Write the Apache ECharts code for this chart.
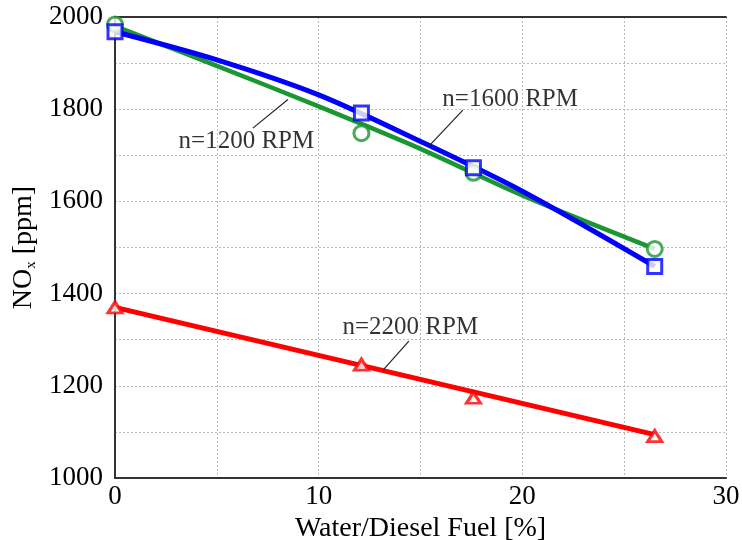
<!DOCTYPE html>
<html><head><meta charset="utf-8">
<script src="https://cdn.jsdelivr.net/npm/echarts@6/dist/echarts.min.js"></script>
<style>html,body{margin:0;padding:0;background:#fff}#c{width:742px;height:540px}</style>
</head><body><div id="c"></div>
<script>
// Measured points (markers)
const xMeas = [0, 12.1, 17.6, 26.5];
const nox1200 = [1984, 1748, 1662, 1497];
const nox1600 = [1968, 1792, 1673, 1459];
const nox2200 = [1370, 1246, 1174, 1091];
// Fitted curves
const fit1200 = [[0,1980],[5,1894],[10,1806],[15,1714],[20,1613],[26.5,1497]];
const fit1600 = [[0,1968],[5,1907],[10,1831],[15,1730],[20,1622],[26.5,1459]];
const fit2200 = [[0,1370],[26.5,1094]];
// Annotations: text, text position, leader line (from, to)
const annText = ['n=1200 RPM', 'n=1600 RPM', 'n=2200 RPM'];
const annPos = [[6.45,1729],[19.4,1822],[14.5,1326]];
const annLine = [[[6.77,1759],[8.49,1821]], [[15.46,1722],[17.08,1798]], [[13.16,1234],[14.43,1297]]];
const xTicks = [0,10,20,30];
const yTicks = [1000,1200,1400,1600,1800,2000];

const FONT = '"Liberation Serif","Times New Roman",serif';
const TXT = '#000';
const colors = ['#1a9632', '#0000ff', '#ff0000'];
const fits = [fit1200, fit1600, fit2200];
const meas = [nox1200, nox1600, nox2200];
const symbols = ['circle', 'rect', 'triangle'];
const widths = [4.5, 5, 5];

const series = [];
fits.forEach((f, i) => {
  series.push({type:'line', data:f, smooth:0.3, showSymbol:false, symbol:'none',
    lineStyle:{color:colors[i], width:widths[i]}, z:2, animation:false});
});
meas.forEach((m, i) => {
  series.push({type:'scatter', data:xMeas.map((x,j)=>[x,m[j]]), symbol:symbols[i],
    symbolSize: i===2 ? [14,11] : (i===1 ? 14 : 15),
    itemStyle:{color:'#fff', borderColor:colors[i], borderWidth:3}, z:5, animation:false});
});
annLine.forEach((l) => {
  series.push({type:'line', data:l, showSymbol:false, symbol:'none',
    lineStyle:{color:'#222', width:1.2}, z:4, animation:false});
});
series.push({type:'scatter', data:annPos.map((p,i)=>({value:p, name:annText[i]})), symbolSize:0,
  label:{show:true, position:'inside', formatter:p=>p.name, fontFamily:FONT, fontSize:25, color:TXT},
  z:6, animation:false});

const frameAxis = {axisLine:{show:true, lineStyle:{color:'#333', width:2}}, axisTick:{show:false},
  axisLabel:{show:false}, splitLine:{show:false}};

const chart = echarts.init(document.getElementById('c'));
chart.setOption({
  backgroundColor:'#fff',
  grid:{left:115, right:16, top:17, bottom:62, outerBoundsMode:'none', containLabel:false},
  xAxis:[{type:'value', min:0, max:30, interval:5,
    name:'Water/Diesel Fuel [%]', nameLocation:'middle', nameGap:34,
    nameTextStyle:{fontFamily:FONT, fontSize:28, color:TXT},
    axisLine:{show:true, lineStyle:{color:'#333', width:2}}, axisTick:{show:false},
    axisLabel:{fontFamily:FONT, fontSize:27, color:TXT, margin:5,
      formatter:v=>xTicks.includes(v)?String(v):''},
    splitLine:{show:true, lineStyle:{color:'#bbb', type:[2,2], width:1}}},
    Object.assign({type:'value', min:0, max:30, position:'top'}, frameAxis)],
  yAxis:[{type:'value', min:1000, max:2000, interval:100,
    name:'{n|NO}{s|x}{n| [ppm]}', nameLocation:'middle', nameGap:75, nameRotate:90,
    nameTextStyle:{rich:{n:{fontFamily:FONT, fontSize:28, color:TXT}, s:{fontFamily:FONT, fontSize:15, color:TXT, verticalAlign:'bottom'}}},
    axisLine:{show:true, lineStyle:{color:'#333', width:2}}, axisTick:{show:false},
    axisLabel:{fontFamily:FONT, fontSize:27, color:TXT, margin:12,
      formatter:v=>yTicks.includes(v)?String(v):''},
    splitLine:{show:true, lineStyle:{color:'#bbb', type:[2,2], width:1}}},
    Object.assign({type:'value', min:1000, max:2000, position:'right'}, frameAxis)],
  series: series
});
</script></body></html>
